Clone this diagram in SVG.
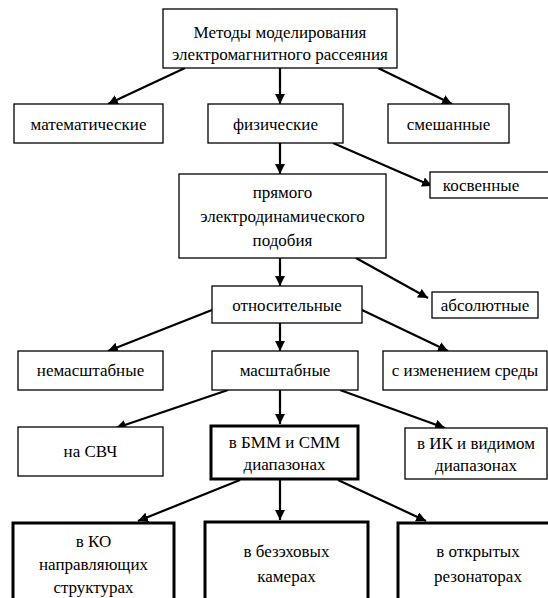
<svg xmlns="http://www.w3.org/2000/svg" width="548" height="598" viewBox="0 0 548 598" font-family="'Liberation Serif', 'Times New Roman', 'DejaVu Serif', serif">
<defs>
<style>
.b{fill:#fff;stroke:#000;stroke-width:1.3}
.t{fill:#fff;stroke:#000;stroke-width:3}
text{font-family:'Liberation Serif','Times New Roman','DejaVu Serif',serif;font-size:17px;fill:#000;text-anchor:middle}
.c line{stroke:#000;stroke-width:2.2}
</style>
<marker id="a" viewBox="0 0 10 10" refX="10" refY="5" markerWidth="4.5" markerHeight="4.5" markerUnits="strokeWidth" orient="auto">
<path d="M0,0L10,5L0,10z" fill="#000"/>
</marker>
</defs>
<rect width="548" height="598" fill="#fff"/>
<g class="c">
<line x1="185" y1="68" x2="108" y2="104" marker-end="url(#a)"/>
<line x1="280" y1="68" x2="280" y2="104" marker-end="url(#a)"/>
<line x1="378" y1="68" x2="452" y2="104" marker-end="url(#a)"/>
<line x1="280" y1="143" x2="280" y2="174" marker-end="url(#a)"/>
<line x1="333" y1="143" x2="432" y2="186" marker-end="url(#a)"/>
<line x1="280" y1="258" x2="280" y2="286" marker-end="url(#a)"/>
<line x1="356" y1="258" x2="428" y2="298" marker-end="url(#a)"/>
<line x1="212" y1="310" x2="108" y2="351" marker-end="url(#a)"/>
<line x1="280" y1="323" x2="280" y2="351" marker-end="url(#a)"/>
<line x1="362" y1="310" x2="448" y2="351" marker-end="url(#a)"/>
<line x1="228" y1="390" x2="116" y2="428" marker-end="url(#a)"/>
<line x1="280" y1="390" x2="280" y2="424" marker-end="url(#a)"/>
<line x1="340" y1="390" x2="445" y2="428" marker-end="url(#a)"/>
<line x1="240" y1="480" x2="138" y2="521" marker-end="url(#a)"/>
<line x1="280" y1="480" x2="280" y2="520" marker-end="url(#a)"/>
<line x1="338" y1="480" x2="426" y2="521" marker-end="url(#a)"/>
</g>
<g id="n-top"><rect class="b" x="163" y="9" width="234" height="59"/><text x="280" y="38">Методы моделирования</text><text x="280" y="60">электромагнитного рассеяния</text></g>
<g id="n-math"><rect class="b" x="14" y="104" width="149" height="39"/><text x="88.5" y="130">математические</text></g>
<g id="n-phys"><rect class="b" x="208" y="104" width="135" height="39"/><text x="275.5" y="130">физические</text></g>
<g id="n-mix"><rect class="b" x="388" y="104" width="121" height="39"/><text x="448.5" y="130">смешанные</text></g>
<g id="n-direct"><rect class="b" x="179" y="174" width="207" height="84"/><text x="282.5" y="198">прямого</text><text x="282.5" y="222">электродинамического</text><text x="282.5" y="246">подобия</text></g>
<g id="n-indirect"><rect class="b" x="430" y="172" width="125" height="26"/><text x="481" y="191">косвенные</text></g>
<g id="n-rel"><rect class="b" x="212" y="286" width="150" height="37"/><text x="287" y="311">относительные</text></g>
<g id="n-abs"><rect class="b" x="432" y="292" width="106" height="26"/><text x="485" y="311">абсолютные</text></g>
<g id="n-nonscale"><rect class="b" x="18" y="351" width="145" height="39"/><text x="90.5" y="376">немасштабные</text></g>
<g id="n-scale"><rect class="b" x="212" y="351" width="146" height="39"/><text x="285" y="376">масштабные</text></g>
<g id="n-medium"><rect class="b" x="383" y="351" width="164" height="39"/><text x="465" y="376">с изменением среды</text></g>
<g id="n-shf"><rect class="b" x="18" y="427" width="145" height="49"/><text x="90.5" y="457">на СВЧ</text></g>
<g id="n-bmm"><rect class="t" x="211" y="426" width="147" height="53"/><text x="284.5" y="448">в БММ и СММ</text><text x="284.5" y="470">диапазонах</text></g>
<g id="n-ik"><rect class="b" x="405" y="428" width="142" height="51"/><text x="476" y="449">в ИК и видимом</text><text x="476" y="471">диапазонах</text></g>
<g id="n-ko"><rect class="t" x="13" y="523" width="161" height="80"/><text x="93.5" y="547">в КО</text><text x="93.5" y="570">направляющих</text><text x="93.5" y="593">структурах</text></g>
<g id="n-anech"><rect class="t" x="205" y="522" width="163" height="80"/><text x="286.5" y="557">в безэховых</text><text x="286.5" y="582">камерах</text></g>
<g id="n-open"><rect class="t" x="398" y="523" width="160" height="80"/><text x="478" y="557">в открытых</text><text x="478" y="582">резонаторах</text></g>
</svg>
